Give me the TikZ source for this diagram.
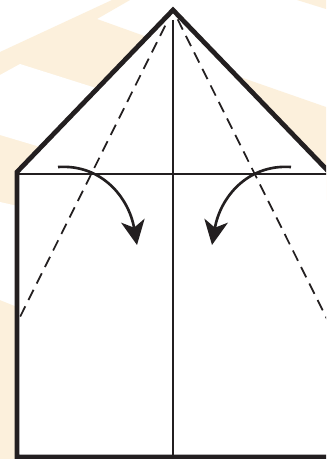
\documentclass[tikz,border=0pt]{standalone}
\usepackage{xcolor}
\usetikzlibrary{arrows.meta,calc}
\definecolor{bgbeige}{RGB}{252,240,220}
\definecolor{inkblack}{RGB}{35,31,32}
\tikzset{
  paperedge/.style={draw=inkblack, line width=2.7pt, line join=miter, fill=white},
  creaseline/.style={draw=inkblack, line width=1.2pt},
  foldline/.style={draw=inkblack, line width=1pt, dash pattern=on 6.5pt off 4pt},
  foldarrow/.style={-{Stealth[length=14pt, width=13.5pt, inset=4pt]}, line width=1.5pt, draw=inkblack},
  bgpatch/.style={fill=bgbeige, draw=none}
}
\begin{document}
\begin{tikzpicture}[x=0.02cm, y=-0.02cm]
\useasboundingbox (0,0) rectangle (326,459);
\clip (0,0) rectangle (326,459);
\fill[white] (0,0) rectangle (326,459);
% backdrop stripes
\path[bgpatch] (0,52) -- (112,0) -- (130,0) -- (97,19) -- (175,47) -- (175,459) -- (0,459) -- cycle;
\fill[white] (0,75) -- (20,64) -- (175,113) -- (175,187) -- (0,135) -- cycle;
\fill[white] (0,202) -- (40,211) -- (40,316) -- (0,300) -- cycle;
\path[bgpatch] (297,0) -- (326,0) -- (326,9) -- cycle;
\path[bgpatch] (240,77) -- (326,107) -- (326,200) -- (240,200) -- cycle;

\coordinate (apex) at (173,10);
\coordinate (lshoulder) at (17,172);
\coordinate (rshoulder) at (329,172);
\coordinate (lbottom) at (17,457);
\coordinate (rbottom) at (329,457);
\coordinate (lcrease) at (17,174);
\coordinate (rcrease) at (329,174);
\coordinate (ctop) at (173,20);
\coordinate (cbottom) at (173,457);
\coordinate (lfoldend) at (17,323);
\coordinate (rfoldend) at (329,323);
\coordinate (lstart) at (58,167);
\coordinate (ltip) at (137,245);
\coordinate (rstart) at (291,167);
\coordinate (rtip) at (212,245);

\path[paperedge] (lshoulder) -- (apex) -- (rshoulder) -- (rbottom) -- (lbottom) -- cycle;
\draw[creaseline] (lcrease) -- (rcrease);
\draw[creaseline] (ctop) -- (cbottom);
\draw[foldline] ($(apex)!0.05!(lfoldend)$) -- (lfoldend);
\draw[foldline] ($(apex)!0.03!(rfoldend)$) -- (rfoldend);
\draw[foldarrow] (lstart) .. controls (102,164) and (129,198) .. (ltip);
\draw[foldarrow] (rstart) .. controls (247,164) and (220,198) .. (rtip);
\end{tikzpicture}
\end{document}
